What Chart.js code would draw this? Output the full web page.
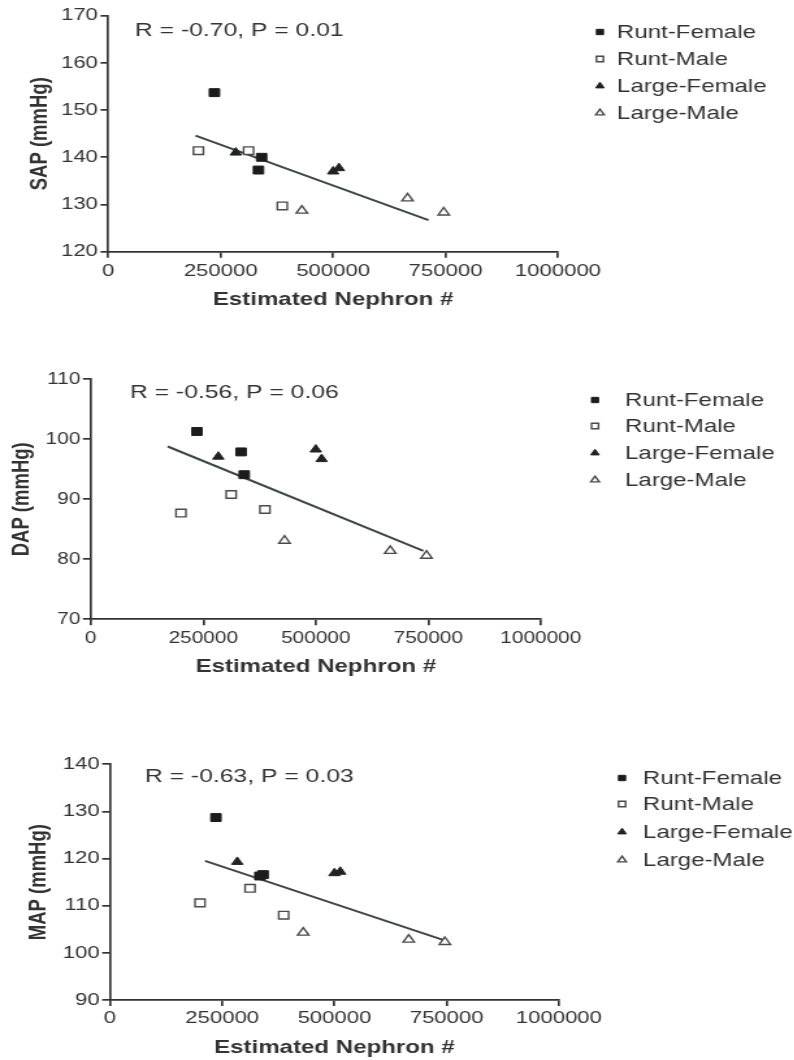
<!DOCTYPE html>
<html>
<head>
<meta charset="utf-8">
<title>Blood pressure vs estimated nephron number</title>
<script src="https://cdn.jsdelivr.net/npm/chart.js@4.4.1/dist/chart.umd.min.js"></script>
<style>
  html, body { margin: 0; padding: 0; background: #fff; width: 794px; height: 1060px; overflow: hidden; }
  .panel { position: absolute; left: 0; transform-origin: 0 0; transform: scaleX(1.3); }
  .panel canvas { display: block; }
</style>
</head>
<body>
<div class="panel" style="top:0px"><canvas id="sapChart" width="611" height="345"></canvas></div>
<div class="panel" style="top:350px"><canvas id="dapChart" width="611" height="365"></canvas></div>
<div class="panel" style="top:720px"><canvas id="mapChart" width="611" height="340"></canvas></div>
<script>
// Group names
const groupNames = ['Runt-Female', 'Runt-Male', 'Large-Female', 'Large-Male'];

// Estimated nephron number per animal, by group
const nephronRF = [236000, 334000, 341000];
const nephronRM = [200500, 312000, 387000];
const nephronLF = [283500, 500000, 513000];
const nephronLM = [430500, 665500, 746000];

// Systolic arterial pressure (mmHg)
const sapRF = [153.7, 137.3, 140.0];
const sapRM = [141.4, 141.4, 129.7];
const sapLF = [141.0, 137.0, 137.7];
const sapLM = [128.7, 131.3, 128.3];

// Diastolic arterial pressure (mmHg)
const dapRF = [101.3, 97.9, 94.1];
const dapRM = [87.7, 90.8, 88.3];
const dapLF = [97.1, 98.3, 96.7];
const dapLM = [83.1, 81.4, 80.6];

// Mean arterial pressure (mmHg)
const mapRF = [128.7, 116.3, 116.6];
const mapRM = [110.6, 113.7, 108.0];
const mapLF = [119.3, 116.9, 117.2];
const mapLM = [104.3, 102.8, 102.3];

// Regression line end points
const sapFitX = [194000, 712000];
const sapFitY = [144.6, 126.7];
const dapFitX = [171000, 739000];
const dapFitY = [98.8, 81.4];
const mapFitX = [211700, 750200];
const mapFitY = [119.5, 102.5];

// Tick values
const nephronTicks = [0, 250000, 500000, 750000, 1000000];
const sapTicks = [120, 130, 140, 150, 160, 170];
const dapTicks = [70, 80, 90, 100, 110];
const mapTicks = [90, 100, 110, 120, 130, 140];

// Correlation labels
const sapStats = 'R = -0.70, P = 0.01';
const dapStats = 'R = -0.56, P = 0.06';
const mapStats = 'R = -0.63, P = 0.03';

const FONT = "'Liberation Sans', Arial, Helvetica, sans-serif";
const INK = '#333333';
const X_AXIS_H = 60;

// Marker look for each group (filled/open square, filled/open triangle)
const groupStyles = [
  { pointStyle: 'rect',     backgroundColor: '#1c1c1c', borderColor: '#1c1c1c', borderWidth: 1,   radius: 5.6 },
  { pointStyle: 'rect',     backgroundColor: '#ffffff', borderColor: '#4a4a4a', borderWidth: 1.4, radius: 5.4 },
  { pointStyle: 'triangle', backgroundColor: '#222222', borderColor: '#222222', borderWidth: 1,   radius: 5 },
  { pointStyle: 'triangle', backgroundColor: '#ffffff', borderColor: '#4a4a4a', borderWidth: 1.4, radius: 5 }
];

function toPoints(xs, ys) {
  return xs.map((x, i) => ({ x: x, y: ys[i] }));
}

function drawMarker(ctx, style, x, y, r) {
  ctx.save();
  ctx.fillStyle = style.backgroundColor;
  ctx.strokeStyle = style.borderColor;
  ctx.lineWidth = style.borderWidth;
  ctx.beginPath();
  if (style.pointStyle === 'rect') {
    const h = r * Math.SQRT1_2;
    ctx.rect(x - h, y - h, 2 * h, 2 * h);
  } else {
    ctx.moveTo(x, y - r);
    ctx.lineTo(x + Math.sin(2 * Math.PI / 3) * r, y + r / 2);
    ctx.lineTo(x - Math.sin(2 * Math.PI / 3) * r, y + r / 2);
    ctx.closePath();
  }
  ctx.fill();
  ctx.stroke();
  ctx.restore();
}

// Correlation text and side legend
const panelDecor = {
  id: 'panelDecor',
  afterDraw(chart, args, opts) {
    const ctx = chart.ctx;
    const area = chart.chartArea;
    ctx.save();
    ctx.fillStyle = INK;
    ctx.textBaseline = 'middle';
    ctx.textAlign = 'left';
    ctx.font = opts.statsSize + 'px ' + FONT;
    ctx.fillText(opts.stats, area.left + opts.statsDx, area.top + opts.statsDy);
    ctx.font = opts.legendSize + 'px ' + FONT;
    groupNames.forEach((name, i) => {
      const y = opts.legendRows[i];
      drawMarker(ctx, groupStyles[i], opts.markerX, y, 3.8);
      ctx.fillStyle = INK;
      ctx.fillText(name, opts.textX, y + 1);
    });
    ctx.restore();
  }
};

function buildPanel(cfg) {
  const canvas = document.getElementById(cfg.id);
  const W = canvas.width, H = canvas.height;
  const f = cfg.frame;
  const groups = [
    toPoints(nephronRF, cfg.values[0]),
    toPoints(nephronRM, cfg.values[1]),
    toPoints(nephronLF, cfg.values[2]),
    toPoints(nephronLM, cfg.values[3])
  ];
  const datasets = [{
    type: 'line',
    label: 'fit',
    data: toPoints(cfg.fitX, cfg.fitY),
    borderColor: '#3e4646',
    borderWidth: 2,
    pointRadius: 0,
    showLine: true,
    fill: false,
    order: 5
  }];
  groups.forEach((pts, i) => {
    const st = groupStyles[i];
    datasets.push({
      label: groupNames[i],
      data: pts,
      pointStyle: st.pointStyle,
      backgroundColor: st.backgroundColor,
      borderColor: st.borderColor,
      borderWidth: st.borderWidth,
      pointRadius: st.radius,
      order: 1,
      clip: false
    });
  });

  return new Chart(canvas, {
    type: 'scatter',
    data: { datasets: datasets },
    plugins: [panelDecor],
    options: {
      responsive: false,
      animation: false,
      events: [],
      layout: {
        padding: { left: 0, top: f.top, right: W - f.right, bottom: H - f.bottom - X_AXIS_H }
      },
      plugins: {
        legend: { display: false },
        tooltip: { enabled: false },
        panelDecor: cfg.decor
      },
      scales: {
        x: {
          type: 'linear',
          min: 0,
          max: 1000000,
          afterBuildTicks: s => { s.ticks = nephronTicks.map(v => ({ value: v })); },
          afterFit: s => { s.height = X_AXIS_H; },
          border: { display: true, color: INK, width: 1.7 },
          grid: { display: true, drawOnChartArea: false, drawTicks: true, tickLength: 6, color: INK, lineWidth: 1.7 },
          ticks: {
            color: INK, padding: cfg.xTickPad, autoSkip: false, maxRotation: 0,
            font: { family: FONT, size: cfg.tickSize },
            callback: v => String(v)
          },
          title: {
            display: true, text: 'Estimated Nephron #', color: INK,
            font: { family: FONT, size: 18.5, weight: 'bold' },
            padding: { top: 0, bottom: 1 }
          }
        },
        y: {
          type: 'linear',
          min: cfg.yTicks[0],
          max: cfg.yTicks[cfg.yTicks.length - 1],
          afterBuildTicks: s => { s.ticks = cfg.yTicks.map(v => ({ value: v })); },
          afterFit: s => { s.width = f.left; },
          border: { display: true, color: INK, width: 1.7 },
          grid: { display: true, drawOnChartArea: false, drawTicks: true, tickLength: 6, color: INK, lineWidth: 1.7 },
          ticks: {
            color: INK, padding: 2, autoSkip: false,
            font: { family: FONT, size: cfg.tickSize },
            callback: v => String(v)
          },
          title: {
            display: true, text: cfg.yTitle, color: INK,
            font: { family: FONT, size: 18.5, weight: 'bold' },
            padding: { top: cfg.yTitlePad, bottom: 0 }
          }
        }
      }
    }
  });
}

buildPanel({
  id: 'sapChart',
  yTitle: 'SAP (mmHg)',
  yTicks: sapTicks,
  values: [sapRF, sapRM, sapLF, sapLM],
  fitX: sapFitX, fitY: sapFitY,
  frame: { left: 83.3, right: 429.2, top: 15.7, bottom: 251.7 },
  tickSize: 17, xTickPad: 3, yTitlePad: 20,
  decor: { stats: sapStats, statsSize: 19, statsDx: 20.5, statsDy: 15.3,
           legendSize: 18.5, markerX: 461.5, textX: 474.6, legendRows: [32, 59, 86, 113] }
});

buildPanel({
  id: 'dapChart',
  yTitle: 'DAP (mmHg)',
  yTicks: dapTicks,
  values: [dapRF, dapRM, dapLF, dapLM],
  fitX: dapFitX, fitY: dapFitY,
  frame: { left: 69.8, right: 416.0, top: 29.3, bottom: 269.3 },
  tickSize: 16, xTickPad: 4, yTitlePad: 6,
  decor: { stats: dapStats, statsSize: 19, statsDx: 30.2, statsDy: 13.4,
           legendSize: 18.5, markerX: 457.7, textX: 480.8, legendRows: [50, 76, 103, 130] }
});

buildPanel({
  id: 'mapChart',
  yTitle: 'MAP (mmHg)',
  yTicks: mapTicks,
  values: [mapRF, mapRM, mapLF, mapLM],
  fitX: mapFitX, fitY: mapFitY,
  frame: { left: 84.6, right: 429.9, top: 44.3, bottom: 280 },
  tickSize: 17, xTickPad: 2, yTitlePad: 19,
  decor: { stats: mapStats, statsSize: 19, statsDx: 26.9, statsDy: 12.4,
           legendSize: 18.5, markerX: 478.5, textX: 494.6, legendRows: [58, 84, 112, 140] }
});
</script>
</body>
</html>
